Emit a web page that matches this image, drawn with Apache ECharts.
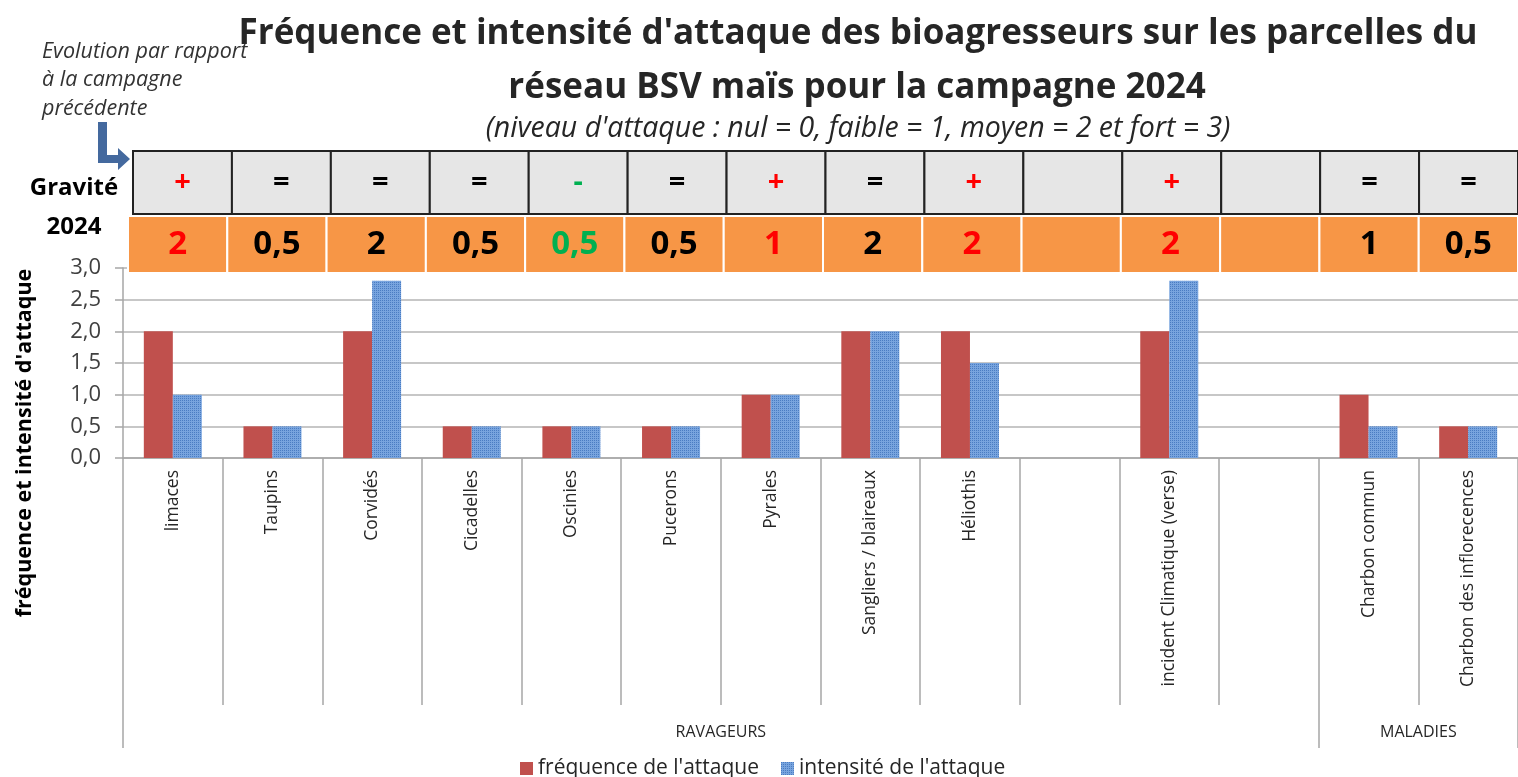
<!DOCTYPE html>
<html>
<head>
<meta charset="utf-8">
<style>
  html, body { margin: 0; padding: 0; background: #fff; }
  #chart { width: 1518px; height: 777px; }
</style>
<script src="https://cdn.jsdelivr.net/npm/echarts@6/dist/echarts.min.js"></script>
</head>
<body>
<div id="chart"></div>
<script>
// data
const categories = ['limaces', 'Taupins', 'Corvidés', 'Cicadelles', 'Oscinies', 'Pucerons', 'Pyrales',
  'Sangliers / blaireaux', 'Héliothis', '', 'incident Climatique (verse)', '', 'Charbon commun', 'Charbon des inflorecences']
const frequence = [2, 0.5, 2, 0.5, 0.5, 0.5, 1, 2, 2, null, 2, null, 1, 0.5]
const intensite = [1, 0.5, 2.8, 0.5, 0.5, 0.5, 1, 2, 1.5, null, 2.8, null, 0.5, 0.5]
const evolution = ['+', '=', '=', '=', '-', '=', '+', '=', '+', '', '+', '', '=', '=']
const gravite = ['2', '0,5', '2', '0,5', '0,5', '0,5', '1', '2', '2', '', '2', '', '1', '0,5']
const groups = [
  { name: 'RAVAGEURS', start: 0, end: 12 },
  { name: 'MALADIES', start: 12, end: 14 },
]
const yTicks = [0, 0.5, 1, 1.5, 2, 2.5, 3]

const FONT = 'Open Sans'
const signColor = { '+': '#ff0000', '-': '#00b050', '=': '#000000', '': '#000000' }

// dotted blue fill like the Excel pattern
const pat = document.createElement('canvas')
pat.width = 4; pat.height = 4
const pctx = pat.getContext('2d')
pctx.fillStyle = '#78a4de'
pctx.fillRect(0, 0, 4, 4)
pctx.fillStyle = '#4a7cc2'
pctx.fillRect(0, 0, 1, 1); pctx.fillRect(2, 2, 1, 1)
pctx.fillRect(2, 0, 1, 1); pctx.fillRect(0, 2, 1, 1)
const bluePattern = { image: pat, repeat: 'repeat' }

const chart = echarts.init(document.getElementById('chart'))

function cellSeries(gridIdx, values, fill, stroke, lw, fontSize) {
  return {
    type: 'custom',
    xAxisIndex: gridIdx + 1,
    yAxisIndex: gridIdx,
    silent: true,
    z: 5,
    data: values.map((v, i) => [i, 0, v]),
    renderItem: (params, api) => {
      const c = api.coord([api.value(0), 0])
      const s = api.size([1, 1])
      const txt = values[params.dataIndex]
      const col = signColor[evolution[params.dataIndex]]
      return {
        type: 'group',
        children: [
          {
            type: 'rect',
            shape: { x: c[0] - s[0] / 2, y: c[1] - s[1] / 2, width: s[0], height: s[1] },
            style: { fill: fill, stroke: stroke, lineWidth: lw },
          },
          {
            type: 'text',
            style: {
              x: c[0], y: c[1], text: txt, fill: col,
              font: 'bold ' + fontSize + 'px "' + FONT + '"', align: 'center', verticalAlign: 'middle',
            },
          },
        ],
      }
    },
  }
}

chart.setOption({
  animation: false,
  textStyle: { fontFamily: FONT },
  grid: [
    { left: 123, right: 0, top: 268, height: 190 },
    { left: 133, right: 0, top: 151, height: 63 },
    { left: 128, right: 0, top: 216, height: 57 },
  ],
  legend: {
    left: 515, top: 753, itemWidth: 13, itemHeight: 13, itemGap: 22, icon: 'rect',
    textStyle: { fontSize: 21, color: '#262626', fontFamily: FONT },
    data: ['fréquence de l\'attaque', 'intensité de l\'attaque'],
  },
  xAxis: [
    {
      type: 'category', gridIndex: 0, data: categories,
      axisLine: { lineStyle: { color: '#a6a6a6', width: 1.5 } },
      axisTick: { show: true, interval: 0, length: 247, lineStyle: { color: '#a6a6a6', width: 1.5 } },
      axisLabel: { interval: 0, rotate: 90, margin: 12, fontSize: 17.5, color: '#262626' },
    },
    {
      type: 'value', gridIndex: 0, min: 0, max: 14, position: 'bottom',
      axisLine: { show: false }, splitLine: { show: false },
      axisTick: { show: true, customValues: [0, 12, 14], length: 290, lineStyle: { color: '#a6a6a6', width: 1.5 } },
      axisLabel: {
        customValues: groups.map(g => (g.start + g.end) / 2),
        formatter: v => (groups.find(g => (g.start + g.end) / 2 === v) || {}).name || '',
        margin: 266, fontSize: 16, color: '#262626',
      },
    },
    { type: 'category', gridIndex: 1, data: categories, show: false },
    { type: 'category', gridIndex: 2, data: categories, show: false },
  ],
  yAxis: [
    {
      type: 'value', gridIndex: 0, min: 0, max: 3, interval: 0.5,
      axisLine: { show: true, lineStyle: { color: '#a6a6a6', width: 1.5 } },
      axisTick: { show: true, length: 8, lineStyle: { color: '#a6a6a6', width: 1.5 } },
      axisLabel: {
        customValues: yTicks, margin: 22, fontSize: 22, color: '#404040',
        formatter: v => v.toFixed(1).replace('.', ','),
      },
      splitLine: { lineStyle: { color: '#b4b4b4', width: 1.5 } },
    },
    { type: 'category', gridIndex: 1, data: ['evolution'], show: false },
    { type: 'category', gridIndex: 2, data: ['gravite'], show: false },
  ],
  series: [
    {
      name: 'fréquence de l\'attaque', type: 'bar', data: frequence,
      barWidth: 29, barGap: 0,
      itemStyle: { color: '#c0504d' },
    },
    {
      name: 'intensité de l\'attaque', type: 'bar', data: intensite,
      barWidth: 29, barGap: 0,
      itemStyle: { color: bluePattern },
    },
    cellSeries(1, evolution, '#e6e6e6', '#222', 2, 29),
    cellSeries(2, gravite, '#f79646', '#ffffff', 2, 33),
  ],
  graphic: [
    {
      type: 'text', x: 858, y: 34,
      style: {
        text: 'Fréquence et intensité d\'attaque des bioagresseurs sur les parcelles du',
        font: 'bold 35px "' + FONT + '"', fill: '#262626', align: 'center', verticalAlign: 'middle',
      },
    },
    {
      type: 'text', x: 857, y: 88,
      style: {
        text: 'réseau BSV maïs pour la campagne 2024',
        font: 'bold 35px "' + FONT + '"', fill: '#262626', align: 'center', verticalAlign: 'middle',
      },
    },
    {
      type: 'text', x: 858, y: 129,
      style: {
        text: '(niveau d\'attaque : nul = 0, faible = 1, moyen = 2 et fort = 3)',
        font: 'italic 28.5px "' + FONT + '"', fill: '#262626', align: 'center', verticalAlign: 'middle',
      },
    },
    {
      type: 'text', x: 42, y: 80,
      style: {
        text: 'Evolution par rapport\nà la campagne\nprécédente',
        font: 'italic 21.5px "' + FONT + '"', fill: '#333', lineHeight: 28.5, verticalAlign: 'middle',
      },
    },
    {
      type: 'polygon',
      shape: { points: [[98, 122], [107, 122], [107, 155], [118, 155], [118, 148], [130, 159], [118, 170], [118, 163], [98, 163]] },
      style: { fill: '#44699e' },
    },
    {
      type: 'text', x: 74, y: 188,
      style: { text: 'Gravité', font: 'bold 24px "' + FONT + '"', fill: '#000', align: 'center', verticalAlign: 'middle' },
    },
    {
      type: 'text', x: 74, y: 227,
      style: { text: '2024', font: 'bold 24px "' + FONT + '"', fill: '#000', align: 'center', verticalAlign: 'middle' },
    },
    {
      type: 'text', x: 25, y: 443, rotation: Math.PI / 2,
      style: { text: 'fréquence et intensité d\'attaque', font: 'bold 21.5px "' + FONT + '"', fill: '#000', align: 'center', verticalAlign: 'middle' },
    },
  ],
})
</script>
</body>
</html>
